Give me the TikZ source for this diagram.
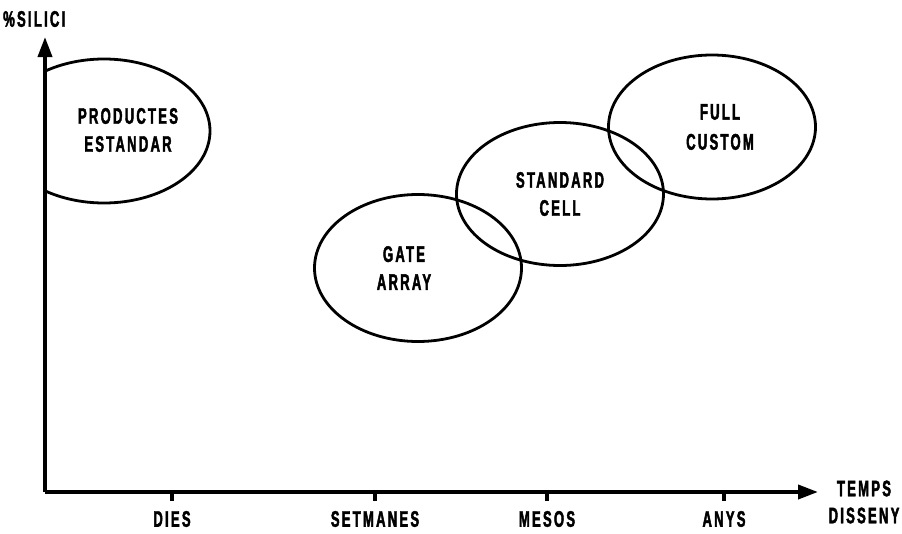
\documentclass[tikz,border=0pt]{standalone}
\usepackage{fontspec}
\usetikzlibrary{shapes.geometric,arrows.meta}
\newfontfamily\labfont[FakeStretch=0.58,LetterSpace=10,FakeBold=2]{Liberation Sans Bold}
\begin{document}
\begin{tikzpicture}[x=1pt,y=-1pt,
  lab/.style={font=\labfont\fontsize{22.5}{26}\selectfont, align=center, inner sep=0pt},
  blob/.style={ellipse, draw, line width=2.8pt, inner sep=0pt},
  axis/.style={line width=3.8pt, -{Triangle[length=20pt,width=14pt]}},
  tick/.style={line width=3.6pt}]
\useasboundingbox (0,0) rectangle (902,533);
% axes
\coordinate (o) at (45,492);
\coordinate (ytop) at (45,37);
\coordinate (xend) at (818,492);
\draw[axis] (o) -- (ytop);
\draw[axis] (o) -- (xend);
% ticks
\foreach \n/\x in {t1/172,t2/375,t3/547,t4/724}{
  \coordinate (\n) at (\x,492);
  \coordinate (\n b) at (\x,501);
  \draw[tick] (\n) -- (\n b);
}
\node[lab] (dies) at (172,519) {DIES};
\node[lab] (setm) at (375,519) {SETMANES};
\node[lab] (mesos) at (547,519) {MESOS};
\node[lab] (anys) at (724,519) {ANYS};
\node[lab] (temps) at (864,502) {TEMPS\\[1pt]DISSENY};
\node[lab, anchor=west] (silici) at (3,19) {\%SILICI};
% ellipses
\begin{scope}
\clip (46,0) rectangle (300,300);
\node[blob, minimum width=212pt, minimum height=144pt] (pe) at (104,131) {};
\end{scope}
\node[lab] (pet) at (128,130) {PRODUCTES\\[2pt]ESTANDAR};
\node[blob, minimum width=207pt, minimum height=147pt] (ga) at (418,268) {};
\node[lab] at (ga.center) [xshift=-14pt] {GATE\\[2pt]ARRAY};
\node[blob, minimum width=207pt, minimum height=143pt] (sc) at (560,194) {};
\node[lab] at (sc.center) {STANDARD\\[2pt]CELL};
\node[blob, minimum width=207pt, minimum height=144pt] (fc) at (712,127) {};
\node[lab] at (720,127) {FULL\\[4pt]CUSTOM};
\end{tikzpicture}
\end{document}
